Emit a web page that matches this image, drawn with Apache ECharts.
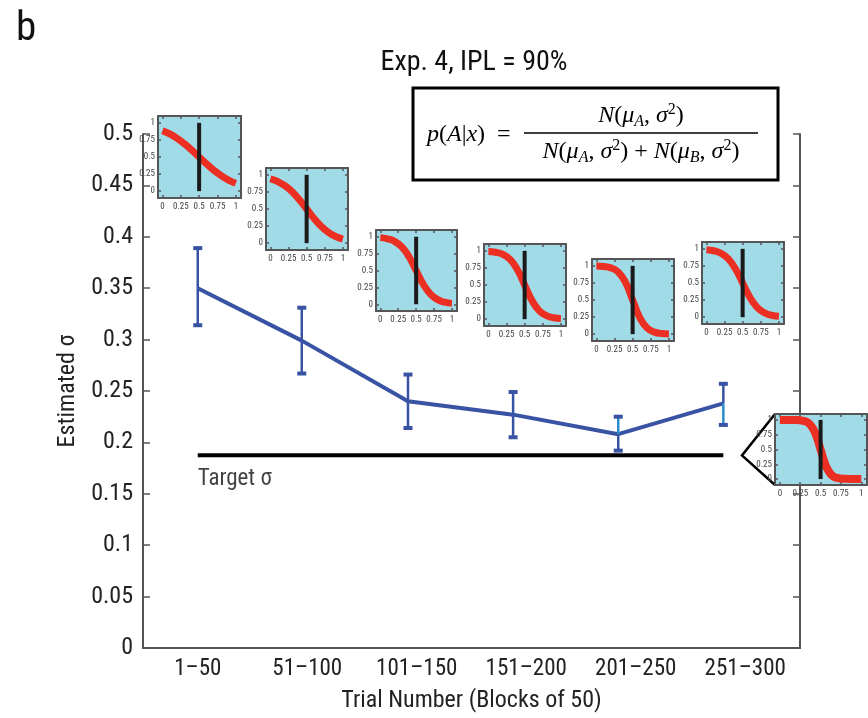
<!DOCTYPE html>
<html><head><meta charset="utf-8">
<script src="https://cdn.jsdelivr.net/npm/echarts@6/dist/echarts.min.js"></script>
<style>html,body{margin:0;padding:0;background:#fff}#c{width:868px;height:718px}</style>
</head><body><div id="c"></div>
<script>
// ---- data ----
const categories = ['1–50', '51–100', '101–150', '151–200', '201–250', '251–300'];
const xPositions = [1, 1.95, 2.92, 3.88, 4.84, 5.8];
const sigmaMean = [0.350, 0.299, 0.240, 0.227, 0.208, 0.238];
const sigmaLow  = [0.314, 0.267, 0.214, 0.205, 0.192, 0.217];
const sigmaHigh = [0.389, 0.331, 0.266, 0.249, 0.225, 0.257];
const lightUpper = [0, 0, 0, 0, 1, 0];
const lightLower = [0, 0, 0, 0, 0, 1];
const targetSigma = 0.1874;
const targetSpan = [1, 5.8];
const arrowTipX = 5.97;
const yTicks = [0, 0.05, 0.1, 0.15, 0.2, 0.25, 0.3, 0.35, 0.4, 0.45, 0.5];
const insetTicks = [0, 0.25, 0.5, 0.75, 1];
const boundaryX = 0.5;
const insetX = [0, 0.1, 0.2, 0.3, 0.4, 0.5, 0.6, 0.7, 0.8, 0.9, 1];
const curve1 = [0.885, 0.837, 0.773, 0.693, 0.600, 0.500, 0.400, 0.307, 0.227, 0.163, 0.115];
const curve2 = [0.941, 0.902, 0.841, 0.752, 0.635, 0.500, 0.365, 0.248, 0.159, 0.098, 0.059];
const curve3 = [0.987, 0.970, 0.931, 0.850, 0.704, 0.500, 0.296, 0.150, 0.069, 0.030, 0.013];
const curve4 = [0.992, 0.980, 0.948, 0.875, 0.725, 0.500, 0.275, 0.125, 0.052, 0.020, 0.008];
const curve5 = [0.997, 0.990, 0.970, 0.910, 0.761, 0.500, 0.239, 0.090, 0.030, 0.010, 0.003];
const curve6 = [0.988, 0.972, 0.935, 0.856, 0.709, 0.500, 0.291, 0.144, 0.065, 0.028, 0.012];
const insetX7 = [0, 0.1, 0.2, 0.3, 0.35, 0.4, 0.45, 0.5, 0.55, 0.6, 0.65, 0.7, 0.8, 0.9, 1];
const curve7  = [1, 1, 0.998, 0.98, 0.95, 0.87, 0.72, 0.5, 0.28, 0.13, 0.05, 0.02, 0.004, 0.001, 0];

// ---- layout / style ----
const FONT = "'Liberation Sans Narrow','Nimbus Sans Narrow','Roboto Condensed',Roboto,sans-serif";
const MATH = "'Liberation Serif','DejaVu Serif',serif";
const AX = '#555';
const BLUE = '#3953a4', LIGHT = '#2b8dd0';
const insetBoxes = [[158,116,83,82],[266,168,82,82],[376,230,81,81],[484,244,82,82],[592,259,82,82],[702,242,82,82],[775,414,92,71]];
const insetSeries = [
  [insetX, curve1], [insetX, curve2], [insetX, curve3], [insetX, curve4],
  [insetX, curve5], [insetX, curve6], [insetX7, curve7]
];

const grids = [{left:143, top:134, width:657, height:515}];
const xAxes = [
  {type:'category', gridIndex:0, position:'bottom', data:categories, boundaryGap:true,
   axisLine:{lineStyle:{color:AX,width:2}}, axisTick:{inside:true,length:7,alignWithLabel:true,lineStyle:{color:AX,width:1.5}},
   axisLabel:{fontFamily:FONT,fontSize:23,color:'#222',margin:10,interval:0},
   name:'Trial Number (Blocks of 50)', nameLocation:'middle', nameGap:41,
   nameTextStyle:{fontFamily:FONT,fontSize:24,color:'#222'}, splitLine:{show:false}},
  {type:'category', gridIndex:0, position:'top', data:categories, boundaryGap:true,
   axisLine:{lineStyle:{color:AX,width:2}}, axisTick:{inside:true,length:7,alignWithLabel:true,interval:0,lineStyle:{color:AX,width:1.5}},
   axisLabel:{show:false,interval:0}, splitLine:{show:false}},
  {type:'value', gridIndex:0, min:0.5, max:6.5, show:false}
];
const yAxes = [
  {type:'value', gridIndex:0, position:'left', min:0, max:0.5, interval:0.05,
   axisLine:{show:true,lineStyle:{color:AX,width:2}}, axisTick:{show:true,inside:true,length:7,lineStyle:{color:AX,width:1.5}},
   axisLabel:{fontFamily:FONT,fontSize:24,color:'#222',margin:10}, splitLine:{show:false},
   name:'Estimated σ', nameLocation:'middle', nameGap:60,
   nameTextStyle:{fontFamily:FONT,fontSize:24,color:'#222'}},
  {type:'value', gridIndex:0, position:'right', min:0, max:0.5, interval:0.05,
   axisLine:{show:true,lineStyle:{color:AX,width:2}}, axisTick:{show:true,inside:true,length:7,lineStyle:{color:AX,width:1.5}},
   axisLabel:{show:false}, splitLine:{show:false}}
];

const series = [
  {type:'line', xAxisIndex:2, yAxisIndex:0, data: xPositions.map((x,i)=>[x, sigmaMean[i]]),
   symbol:'none', lineStyle:{color:BLUE,width:4}, z:5, silent:true},
  {type:'custom', xAxisIndex:2, yAxisIndex:0, z:6,
   data: xPositions.map((x,i)=>[x, sigmaLow[i], sigmaHigh[i], sigmaMean[i], i]),
   renderItem: function(params, api){
     const i = api.value(4);
     const pLo = api.coord([api.value(0), api.value(1)]);
     const pHi = api.coord([api.value(0), api.value(2)]);
     const pM  = api.coord([api.value(0), api.value(3)]);
     const cw = 4.5;
     return {type:'group', children:[
       {type:'line', shape:{x1:pHi[0],y1:pHi[1],x2:pM[0],y2:pM[1]}, style:{stroke: lightUpper[i]?LIGHT:BLUE, lineWidth:2.5}},
       {type:'line', shape:{x1:pM[0],y1:pM[1],x2:pLo[0],y2:pLo[1]}, style:{stroke: lightLower[i]?LIGHT:BLUE, lineWidth:2.5}},
       {type:'rect', shape:{x:pHi[0]-cw,y:pHi[1]-2,width:2*cw,height:4}, style:{fill:BLUE}},
       {type:'rect', shape:{x:pLo[0]-cw,y:pLo[1]-2,width:2*cw,height:4}, style:{fill:BLUE}}
     ]};
   }},
  {type:'line', xAxisIndex:2, yAxisIndex:0, data: targetSpan.map(x=>[x, targetSigma]),
   symbol:'none', lineStyle:{color:'#000',width:4}, z:4, silent:true},
  {type:'scatter', xAxisIndex:2, yAxisIndex:0, data:[[targetSpan[0], targetSigma]], symbolSize:0.1, z:4,
   label:{show:true, position:[0,12], formatter:'Target σ', fontFamily:FONT, fontSize:23, color:'#111', align:'left', verticalAlign:'top'}}
];

insetBoxes.forEach((b, k) => {
  const g = grids.length;
  grids.push({left:b[0], top:b[1], width:b[2], height:b[3], show:true, backgroundColor:'#a2dbe8', borderWidth:0, z:10});
  const tickCommon = {show:true, inside:true, length:3, customValues:insetTicks, lineStyle:{color:AX,width:1.5}};
  const lineCommon = {show:true, onZero:false, lineStyle:{color:AX,width:2}};
  const lab = {fontFamily:FONT, fontSize:9, color:'#444', customValues:insetTicks, formatter: v => String(v)};
  const xi = xAxes.length, yi = yAxes.length;
  xAxes.push({type:'value', gridIndex:g, position:'bottom', min:-0.06, max:1.07, axisLine:lineCommon, axisTick:tickCommon,
              axisLabel:Object.assign({margin:4}, lab), splitLine:{show:false}, z:11});
  xAxes.push({type:'value', gridIndex:g, position:'top', min:-0.06, max:1.07, axisLine:lineCommon, axisTick:tickCommon,
              axisLabel:{show:false}, splitLine:{show:false}, z:11});
  yAxes.push({type:'value', gridIndex:g, position:'left', min:-0.1, max:1.1, axisLine:lineCommon, axisTick:tickCommon,
              axisLabel:Object.assign({margin:3}, lab), splitLine:{show:false}, z:11});
  yAxes.push({type:'value', gridIndex:g, position:'right', min:-0.1, max:1.1, axisLine:lineCommon, axisTick:tickCommon,
              axisLabel:{show:false}, splitLine:{show:false}, z:11});
  const [xs, ys] = insetSeries[k];
  series.push({type:'line', xAxisIndex:xi, yAxisIndex:yi, data: xs.map((x,j)=>[x, ys[j]]), smooth:true,
               symbol:'none', lineStyle:{color:'#ec2f23', width: k===6 ? 8 : 7, cap:'butt'}, z:12, silent:true});
  series.push({type:'line', xAxisIndex:xi, yAxisIndex:yi, data: [[boundaryX,0],[boundaryX,1]],
               symbol:'none', lineStyle:{color:'#1a1a1a', width:4, cap:'butt'}, z:13, silent:true});
});

const rich = {
  it:{fontFamily:MATH, fontStyle:'italic', fontSize:24, lineHeight:28},
  rm:{fontFamily:MATH, fontSize:24, lineHeight:28},
  sub:{fontFamily:MATH, fontStyle:'italic', fontSize:16, lineHeight:16, verticalAlign:'bottom'},
  sup:{fontFamily:MATH, fontSize:16, lineHeight:16, verticalAlign:'top'}
};
const lhsText = '{it|p}{rm|(}{it|A}{rm||}{it|x}{rm|)  =}';
const numText = '{it|N}{rm|(}{it|μ}{sub|A}{rm|, }{it|σ}{sup|2}{rm|)}';
const denText = '{it|N}{rm|(}{it|μ}{sub|A}{rm|, }{it|σ}{sup|2}{rm|) + }{it|N}{rm|(}{it|μ}{sub|B}{rm|, }{it|σ}{sup|2}{rm|)}';

const chart = echarts.init(document.getElementById('c'), null, {renderer:'canvas'});
chart.setOption({
  backgroundColor:'#fff',
  animation:false,
  title:[
    {text:'Exp. 4, IPL = 90%', left:469, top:44, textAlign:'center', textStyle:{fontFamily:FONT, fontSize:28, fontWeight:'normal', color:'#111'}},
    {text:'b', left:11, top:4, textStyle:{fontFamily:FONT, fontSize:41, fontWeight:'normal', color:'#111'}}
  ],
  grid: grids, xAxis: xAxes, yAxis: yAxes, series: series
});

// formula box and connector triangle from target line end to inset 7
const tip = chart.convertToPixel({xAxisIndex:2, yAxisIndex:0}, [arrowTipX, targetSigma]);
const b7 = insetBoxes[6];
chart.setOption({graphic:[
  {type:'rect', z:50, shape:{x:413,y:88,width:365,height:92}, style:{fill:'#fff', stroke:'#000', lineWidth:3}},
  {type:'text', z:51, x:427, y:135, style:{text:lhsText, rich:rich, verticalAlign:'middle', align:'left'}},
  {type:'line', z:51, shape:{x1:524,y1:133,x2:758,y2:133}, style:{stroke:'#000', lineWidth:1.5}},
  {type:'text', z:51, x:641, y:116, style:{text:numText, rich:rich, align:'center', verticalAlign:'middle'}},
  {type:'text', z:51, x:641, y:152, style:{text:denText, rich:rich, align:'center', verticalAlign:'middle'}},
  {type:'polyline', z:9, shape:{points:[[b7[0], b7[1]], tip, [b7[0], b7[1]+b7[3]]]}, style:{stroke:'#000', lineWidth:2.5, fill:null}}
]});
</script>
</body></html>
